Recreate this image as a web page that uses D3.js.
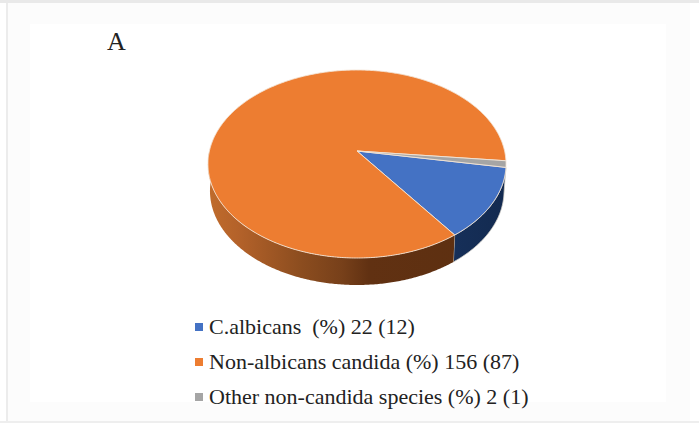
<!DOCTYPE html>
<html>
<head>
<meta charset="utf-8">
<script src="https://cdn.jsdelivr.net/npm/d3@7"></script>
<style>
  html, body { margin: 0; padding: 0; background: #fff; }
  svg { display: block; }
  text { font-family: "Liberation Serif", serif; fill: #222; }
</style>
</head>
<body>
<script>
const categories = ["C.albicans", "Non-albicans candida", "Other non-candida species"];
const counts = [22, 156, 2];
const percents = [12, 87, 1];
const topColors = ["#4472c4", "#ed7d31", "#a5a5a5"];
const panelLabel = "A";

const width = 699, height = 423;

// Perspective projection of the pie disc onto the page
const hub = { x: 357, y: 151 };
const scaleX = 147.6, scaleY = 92.2, tilt = -0.1383;
const wallDepth = 27, baseNarrowing = 147 / 149;
const firstSliceStart = 100 * Math.PI / 180;

// Angle runs clockwise from twelve o'clock, as in d3.pie
function rim(angle) {
  const u = Math.sin(angle), v = -Math.cos(angle), w = 1 + tilt * v;
  return [hub.x + scaleX * u / w, hub.y + scaleY * v / w];
}
function baseRim(angle) {
  const [x, y] = rim(angle);
  return [hub.x + (x - hub.x) * baseNarrowing, y + wallDepth];
}
function steps(a, b) {
  const n = Math.max(2, Math.ceil(Math.abs(b - a) / 0.01));
  return d3.range(n + 1).map(i => a + (b - a) * i / n);
}

const svg = d3.select("body").append("svg")
  .attr("width", width).attr("height", height);

// Pale surround with its thin grey edges
svg.append("rect").attr("width", width).attr("height", height).attr("fill", "#ffffff");
svg.append("rect").attr("x", 6).attr("y", 0).attr("width", 684).attr("height", height).attr("fill", "#fcfcfc");
svg.append("rect").attr("x", 30).attr("y", 24).attr("width", 636).attr("height", 378).attr("fill", "#ffffff");
svg.append("rect").attr("x", 0).attr("y", 0).attr("width", width).attr("height", 3).attr("fill", "#e9e9e9");
svg.append("rect").attr("x", 6).attr("y", 3).attr("width", 2).attr("height", height - 3).attr("fill", "#ececec");
svg.append("rect").attr("x", 0).attr("y", 421).attr("width", width).attr("height", 2).attr("fill", "#eeeeee");

const defs = svg.append("defs");
const gradient = (id, stops) => {
  const g = defs.append("linearGradient").attr("id", id)
    .attr("gradientUnits", "userSpaceOnUse")
    .attr("x1", 208).attr("x2", 506).attr("y1", 0).attr("y2", 0);
  stops.forEach(([o, c]) => g.append("stop").attr("offset", o).attr("stop-color", c));
};
gradient("wall-1", [[0, "#c06c2c"], [0.1, "#b4622a"], [0.31, "#8c4d1f"], [0.45, "#77401a"], [0.54, "#613112"], [1, "#5c2f10"]]);
gradient("wall-0", [[0, "#1a3560"], [0.8, "#16305a"], [1, "#132a50"]]);
gradient("wall-2", [[0, "#6b6b6b"], [1, "#6b6b6b"]]);

const slices = d3.pie().value(d => d).sort(null)
  .startAngle(firstSliceStart)
  .endAngle(firstSliceStart + 2 * Math.PI)(counts);

const line = d3.line();
const group = svg.append("g");

// Side wall: only the part of a slice on the near half of the rim faces the viewer
function wallPath(start, end) {
  const lo = Math.PI / 2, hi = 3 * Math.PI / 2;
  const a = Math.max(start, lo), b = Math.min(end, hi);
  if (a >= b) return null;
  const angles = steps(a, b);
  return line([...angles.map(rim), ...angles.slice().reverse().map(baseRim)]) + "Z";
}

group.selectAll("path.wall").data(slices).join("path")
  .attr("class", "wall")
  .attr("d", d => wallPath(d.startAngle, d.endAngle))
  .attr("fill", d => `url(#wall-${d.index})`)
  .attr("stroke", d => d.index === 0 ? "#d8d4cc" : "none")
  .attr("stroke-width", 0.8);

group.selectAll("path.top").data(slices).join("path")
  .attr("class", "top")
  .attr("d", d => line([[hub.x, hub.y], ...steps(d.startAngle, d.endAngle).map(rim)]) + "Z")
  .attr("fill", (d, i) => topColors[i])
  .attr("stroke", "#f3e4d6").attr("stroke-width", 0.9)
  .attr("stroke-linejoin", "round");

svg.append("text").attr("x", 107).attr("y", 50)
  .attr("font-size", 26).text(panelLabel);

// Legend rows
const legendY = d3.scalePoint().domain(categories).range([327, 397]);
const legend = svg.append("g").selectAll("g").data(categories).join("g")
  .attr("transform", d => `translate(0,${legendY(d)})`);
legend.append("rect").attr("x", 195).attr("y", -4).attr("width", 8).attr("height", 8)
  .attr("fill", (d, i) => topColors[i]);
legend.append("text").attr("x", 209).attr("y", 6.5).attr("font-size", 22)
  .style("white-space", "pre")
  .text((d, i) => `${d}${i === 0 ? "  " : " "}(%) ${counts[i]} (${percents[i]})`);
</script>
</body>
</html>
